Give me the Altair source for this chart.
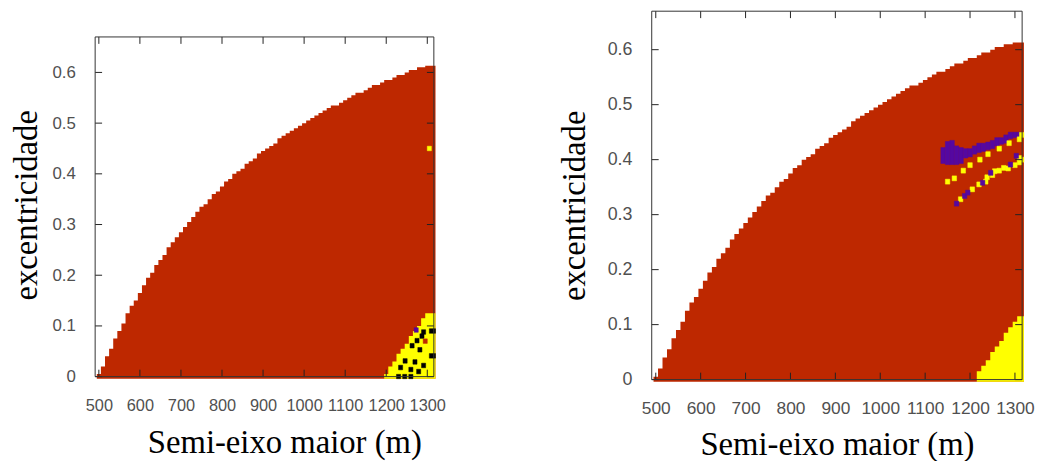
import altair as alt
import pandas as pd

# ---------------- data ----------------
# grid columns of semi-major axis (m), 10 m wide
a_cols = [500 + 10 * i for i in range(83)]  # 500 ... 1320
# upper edge of the coloured (red) region for each column
red_top = [0.005, 0.02, 0.04, 0.055, 0.075, 0.09, 0.105, 0.125, 0.14, 0.15,
           0.165, 0.18, 0.195, 0.205, 0.22, 0.23, 0.24, 0.255, 0.265, 0.275,
           0.285, 0.295, 0.305, 0.315, 0.325, 0.335, 0.34, 0.35, 0.36, 0.365,
           0.375, 0.385, 0.39, 0.4, 0.405, 0.41, 0.42, 0.425, 0.43, 0.44,
           0.445, 0.45, 0.455, 0.46, 0.47, 0.475, 0.48, 0.485, 0.49, 0.495,
           0.5, 0.505, 0.51, 0.515, 0.52, 0.525, 0.53, 0.535, 0.535, 0.54,
           0.545, 0.55, 0.555, 0.56, 0.56, 0.565, 0.57, 0.575, 0.575, 0.58,
           0.585, 0.585, 0.59, 0.595, 0.595, 0.6, 0.605, 0.605, 0.61, 0.61,
           0.613, 0.613, 0.613]

# yellow wedge (bottom right) per column
left_yel_a = [1200, 1210, 1220, 1230, 1240, 1250, 1260, 1270, 1280, 1290, 1300, 1310, 1320]
left_yel_top = [0.005, 0.02, 0.03, 0.045, 0.055, 0.065, 0.08, 0.09, 0.1, 0.115, 0.125, 0.125, 0.125]
right_yel_a = [1220, 1230, 1240, 1250, 1260, 1270, 1280, 1290, 1300, 1310, 1320]
right_yel_top = [0.015, 0.025, 0.035, 0.05, 0.06, 0.07, 0.085, 0.095, 0.105, 0.115, 0.115]

# isolated cells, left panel
left_cell_a = [1310, 1320, 1291, 1287, 1275, 1263, 1282, 1310, 1320, 1246, 1270, 1291,
               1235, 1260, 1279, 1230, 1245, 1260, 1273, 1295, 1305]
left_cell_e = [0.09, 0.09, 0.088, 0.08, 0.071, 0.061, 0.053, 0.041, 0.041, 0.031, 0.029, 0.022,
               0.018, 0.014, 0.01, 0.0, 0.0, 0.0, 0.092, 0.07, 0.45]
left_cell_k = ["black"] * 18 + ["purple", "red", "yellow"]

# purple band, right panel (column, lower e, upper e)
right_pur_a = [1140, 1150, 1160, 1170, 1180, 1190, 1200, 1210, 1220, 1230, 1240, 1250,
               1260, 1270, 1280, 1290, 1300, 1310]
right_pur_lo = [0.393, 0.391, 0.391, 0.391, 0.393, 0.403, 0.405, 0.41, 0.413, 0.415, 0.418, 0.42,
                0.425, 0.428, 0.43, 0.438, 0.44, 0.44]
right_pur_hi = [0.422, 0.433, 0.435, 0.425, 0.422, 0.42, 0.42, 0.425, 0.43, 0.43, 0.432, 0.435,
                0.44, 0.44, 0.445, 0.45, 0.45, 0.45]

# isolated cells, right panel
right_cell_a = [1150, 1165, 1185, 1200, 1222, 1240, 1265, 1287, 1310, 1315,
                1179, 1205, 1220, 1235, 1238, 1250, 1255, 1265, 1275, 1285, 1300, 1310, 1310, 1318,
                1170, 1188, 1195, 1228, 1246, 1290, 1303]
right_cell_e = [0.36, 0.366, 0.38, 0.39, 0.40, 0.41, 0.42, 0.43, 0.437, 0.445,
                0.328, 0.346, 0.355, 0.36, 0.368, 0.372, 0.379, 0.38, 0.385, 0.384, 0.39, 0.395, 0.403, 0.40,
                0.32, 0.334, 0.34, 0.358, 0.376, 0.391, 0.407]
right_cell_k = ["yellow"] * 24 + ["purple"] * 7

x_ticks = [500, 600, 700, 800, 900, 1000, 1100, 1200, 1300]
y_ticks = [0, 0.1, 0.2, 0.3, 0.4, 0.5, 0.6]

COLORS = {"red": "#BE2800", "yellow": "#FFFF00", "purple": "#5508A0", "black": "#000000"}
HALF_A = 5.0
HALF_E = 0.0045
E_BOTTOM = -0.004
A_END = 1320


def step_table(cols, tops):
    xs = [a - HALF_A for a in cols] + [A_END]
    ts = list(tops) + [tops[-1]]
    return pd.DataFrame({"x0": xs, "top": ts, "bot": [E_BOTTOM] * len(xs)})


def cell_table(cell_a, cell_e, cell_k, pur_a=(), pur_lo=(), pur_hi=()):
    rows = []
    for a, lo, hi in zip(pur_a, pur_lo, pur_hi):
        rows.append(dict(x0=a - HALF_A, x1=min(a + HALF_A, A_END), y0=lo, y1=hi, k="purple"))
    for a, e, k in zip(cell_a, cell_e, cell_k):
        lo = max(e - HALF_E, E_BOTTOM)
        rows.append(dict(x0=a - HALF_A, x1=min(a + HALF_A, A_END), y0=lo, y1=e + HALF_E, k=k))
    df = pd.DataFrame(rows)
    df["order"] = range(len(df))
    return df


def panel(cells_df, yel_a, yel_top, W, H, st):
    xs = alt.Scale(domain=[491, 1316], nice=False, zero=False)
    ys = alt.Scale(domain=[0, 0.67], nice=False, zero=False)
    cscale = alt.Scale(domain=list(COLORS.keys()), range=list(COLORS.values()))
    xaxis = alt.Axis(values=x_ticks, format="d", ticks=False, domain=False, grid=False,
                     labelFont="Liberation Sans", labelFontSize=st["xlf"], labelColor="#505050",
                     labelPadding=st["xlp"], title="Semi-eixo maior (m)", titleFont="Liberation Serif",
                     titleFontSize=33, titleFontWeight="normal", titleColor="#000000",
                     titlePadding=st["xtp"], titleX=W / 2 + st["xts"], labelFlush=False)
    yaxis = alt.Axis(values=y_ticks, format=".1~f", ticks=False, domain=False, grid=False,
                     labelFont="Liberation Sans", labelFontSize=st["ylf"], labelColor="#505050",
                     labelPadding=20, title="excentricidade", titleFont="Liberation Serif",
                     titleFontSize=33, titleFontWeight="normal", titleColor="#000000",
                     titlePadding=st["ytp"], titleY=H / 2 + st["yts"], labelFlush=False)
    red = alt.Chart(step_table(a_cols, red_top)).mark_area(
        interpolate="step-after", color=COLORS["red"]).encode(
        x=alt.X("x0:Q", scale=xs, axis=xaxis),
        y=alt.Y("top:Q", scale=ys, axis=yaxis),
        y2="bot:Q")
    yel = alt.Chart(step_table(yel_a, yel_top)).mark_area(
        interpolate="step-after", color=COLORS["yellow"]).encode(
        x=alt.X("x0:Q", scale=xs, axis=xaxis),
        y=alt.Y("top:Q", scale=ys, axis=yaxis),
        y2="bot:Q")
    cells = alt.Chart(cells_df).mark_rect(strokeWidth=0.5).encode(
        x=alt.X("x0:Q", scale=xs, axis=xaxis),
        x2="x1:Q",
        y=alt.Y("y0:Q", scale=ys, axis=yaxis),
        y2="y1:Q",
        color=alt.Color("k:N", scale=cscale, legend=None),
        stroke=alt.Stroke("k:N", scale=cscale, legend=None),
        order=alt.Order("order:Q"),
    )
    xt = pd.DataFrame({"v": x_ticks})
    yt = pd.DataFrame({"v": y_ticks})
    tick_col = "#222222"
    xb = alt.Chart(xt).mark_rule(color=tick_col, strokeWidth=1).encode(
        x=alt.X("v:Q", scale=xs, axis=xaxis), y=alt.value(H), y2=alt.value(H - 7))
    xtop = alt.Chart(xt).mark_rule(color=tick_col, strokeWidth=1).encode(
        x=alt.X("v:Q", scale=xs, axis=xaxis), y=alt.value(0), y2=alt.value(7))
    yl = alt.Chart(yt).mark_rule(color=tick_col, strokeWidth=1).encode(
        y=alt.Y("v:Q", scale=ys, axis=yaxis), x=alt.value(0), x2=alt.value(7))
    yr = alt.Chart(yt).mark_rule(color=tick_col, strokeWidth=1).encode(
        y=alt.Y("v:Q", scale=ys, axis=yaxis), x=alt.value(W), x2=alt.value(W - 7))
    one = pd.DataFrame({"z": [0]})
    fc = "#333333"
    f_top = alt.Chart(one).mark_rule(color=fc).encode(x=alt.value(0), x2=alt.value(W), y=alt.value(0))
    f_bot = alt.Chart(one).mark_rule(color=fc).encode(x=alt.value(0), x2=alt.value(W), y=alt.value(H))
    f_left = alt.Chart(one).mark_rule(color=fc).encode(y=alt.value(0), y2=alt.value(H), x=alt.value(0))
    f_right = alt.Chart(one).mark_rule(color=fc).encode(y=alt.value(0), y2=alt.value(H), x=alt.value(W))
    return alt.layer(red, yel, cells, xb, xtop, yl, yr, f_top, f_bot, f_left, f_right).properties(
        width=W, height=H)


left_cells = cell_table(left_cell_a, left_cell_e, left_cell_k)
right_cells = cell_table(right_cell_a, right_cell_e, right_cell_k,
                         right_pur_a, right_pur_lo, right_pur_hi)

left = panel(left_cells, left_yel_a, left_yel_top, 342, 343,
             dict(xlf=16.5, xlp=21, xtp=13, xts=20, ylf=17, ytp=8.5, yts=-2))
right = panel(right_cells, right_yel_a, right_yel_top, 374, 372,
              dict(xlf=17.5, xlp=20, xtp=12, xts=0, ylf=18, ytp=16, yts=10))

spacer = alt.Chart(pd.DataFrame({"z": [0]})).mark_point(opacity=0).encode(
    x=alt.value(10), y=alt.value(10)).properties(width=300, height=25)

left_col = alt.vconcat(spacer, left, spacing=0)

chart = alt.hconcat(left_col, right, spacing=113).configure_view(stroke=None).properties(
    padding={"left": 2, "top": 0, "right": 0, "bottom": 0})

chart.save("out.html", embed_options={"renderer": "svg", "actions": False})
